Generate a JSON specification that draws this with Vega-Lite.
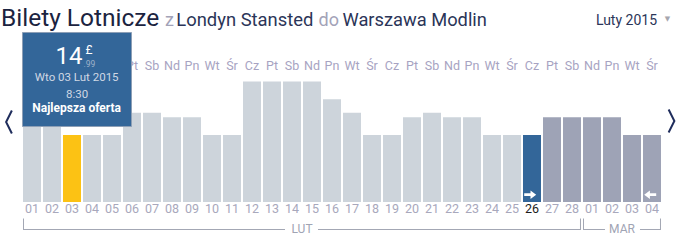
{
  "$schema": "https://vega.github.io/schema/vega-lite/v6.json",
  "width": 640,
  "height": 125,
  "autosize": {"type": "none"},
  "padding": {"left": 22, "top": 77, "right": 23, "bottom": 39},
  "background": "#ffffff",
  "config": {
    "view": {"stroke": null},
    "axis": {"disable": true},
    "legend": {"disable": true},
    "text": {"font": "Roboto"}
  },
  "data": {
    "values": [
      {"data": "2015-02-01", "dzien": "01", "tydz": "Nd", "cena": 19.99, "typ": "zwykly"},
      {"data": "2015-02-02", "dzien": "02", "tydz": "Pn", "cena": 19.99, "typ": "zwykly"},
      {"data": "2015-02-03", "dzien": "03", "tydz": "Wt", "cena": 14.99, "typ": "wybrany"},
      {"data": "2015-02-04", "dzien": "04", "tydz": "Śr", "cena": 14.99, "typ": "zwykly"},
      {"data": "2015-02-05", "dzien": "05", "tydz": "Cz", "cena": 14.99, "typ": "zwykly"},
      {"data": "2015-02-06", "dzien": "06", "tydz": "Pt", "cena": 19.99, "typ": "zwykly"},
      {"data": "2015-02-07", "dzien": "07", "tydz": "Sb", "cena": 19.99, "typ": "zwykly"},
      {"data": "2015-02-08", "dzien": "08", "tydz": "Nd", "cena": 18.99, "typ": "zwykly"},
      {"data": "2015-02-09", "dzien": "09", "tydz": "Pn", "cena": 18.99, "typ": "zwykly"},
      {"data": "2015-02-10", "dzien": "10", "tydz": "Wt", "cena": 14.99, "typ": "zwykly"},
      {"data": "2015-02-11", "dzien": "11", "tydz": "Śr", "cena": 14.99, "typ": "zwykly"},
      {"data": "2015-02-12", "dzien": "12", "tydz": "Cz", "cena": 26.99, "typ": "zwykly"},
      {"data": "2015-02-13", "dzien": "13", "tydz": "Pt", "cena": 26.99, "typ": "zwykly"},
      {"data": "2015-02-14", "dzien": "14", "tydz": "Sb", "cena": 26.99, "typ": "zwykly"},
      {"data": "2015-02-15", "dzien": "15", "tydz": "Nd", "cena": 26.99, "typ": "zwykly"},
      {"data": "2015-02-16", "dzien": "16", "tydz": "Pn", "cena": 22.99, "typ": "zwykly"},
      {"data": "2015-02-17", "dzien": "17", "tydz": "Wt", "cena": 19.99, "typ": "zwykly"},
      {"data": "2015-02-18", "dzien": "18", "tydz": "Śr", "cena": 14.99, "typ": "zwykly"},
      {"data": "2015-02-19", "dzien": "19", "tydz": "Cz", "cena": 14.99, "typ": "zwykly"},
      {"data": "2015-02-20", "dzien": "20", "tydz": "Pt", "cena": 18.99, "typ": "zwykly"},
      {"data": "2015-02-21", "dzien": "21", "tydz": "Sb", "cena": 19.99, "typ": "zwykly"},
      {"data": "2015-02-22", "dzien": "22", "tydz": "Nd", "cena": 18.99, "typ": "zwykly"},
      {"data": "2015-02-23", "dzien": "23", "tydz": "Pn", "cena": 18.99, "typ": "zwykly"},
      {"data": "2015-02-24", "dzien": "24", "tydz": "Wt", "cena": 14.99, "typ": "zwykly"},
      {"data": "2015-02-25", "dzien": "25", "tydz": "Śr", "cena": 14.99, "typ": "zwykly"},
      {"data": "2015-02-26", "dzien": "26", "tydz": "Cz", "cena": 14.99, "typ": "wylot"},
      {"data": "2015-02-27", "dzien": "27", "tydz": "Pt", "cena": 18.99, "typ": "zakres"},
      {"data": "2015-02-28", "dzien": "28", "tydz": "Sb", "cena": 18.99, "typ": "zakres"},
      {"data": "2015-03-01", "dzien": "01", "tydz": "Nd", "cena": 18.99, "typ": "zakres"},
      {"data": "2015-03-02", "dzien": "02", "tydz": "Pn", "cena": 18.99, "typ": "zakres"},
      {"data": "2015-03-03", "dzien": "03", "tydz": "Wt", "cena": 14.99, "typ": "zakres"},
      {"data": "2015-03-04", "dzien": "04", "tydz": "Śr", "cena": 14.99, "typ": "zakres"}
    ]
  },
  "layer": [
    {
      "mark": {"type": "bar"},
      "encoding": {
        "x": {"field": "data", "type": "ordinal", "scale": {"paddingInner": 0.1, "paddingOuter": 0.05}, "axis": null},
        "y": {"field": "cena", "type": "quantitative", "scale": {"domain": [0, 28], "nice": false}, "axis": null},
        "color": {
          "field": "typ",
          "type": "nominal",
          "scale": {"domain": ["zwykly", "wybrany", "wylot", "zakres"], "range": ["#cdd4db", "#fcc214", "#336699", "#9ea3b6"]},
          "legend": null
        }
      }
    },
    {
      "data": {"values": [{"data": "2015-02-26", "kierunek": "tam"}, {"data": "2015-03-04", "kierunek": "powrot"}]},
      "mark": {"type": "point", "filled": true, "size": 144, "opacity": 1, "strokeWidth": 0},
      "encoding": {
        "x": {"field": "data", "type": "ordinal", "bandPosition": 0.4},
        "y": {"datum": 1.64, "type": "quantitative", "scale": {"domain": [0, 28], "nice": false}},
        "shape": {
          "field": "kierunek",
          "type": "nominal",
          "scale": {
            "domain": ["tam", "powrot"],
            "range": [
              "M-1,-0.22L0.05,-0.22L0.05,-0.7L1,0L0.05,0.7L0.05,0.22L-1,0.22Z",
              "M1,-0.22L-0.05,-0.22L-0.05,-0.7L-1,0L-0.05,0.7L-0.05,0.22L1,0.22Z"
            ]
          },
          "legend": null
        },
        "color": {"value": "#ffffff"}
      }
    },
    {
      "mark": {"type": "text", "font": "Liberation Sans Narrow, Roboto", "fontSize": 12.5, "align": "center", "baseline": "alphabetic", "color": "#a7a3c2"},
      "encoding": {
        "x": {"field": "data", "type": "ordinal"},
        "y": {"datum": 29.57, "type": "quantitative", "scale": {"domain": [0, 28], "nice": false}},
        "text": {"field": "tydz"}
      }
    },
    {
      "mark": {"type": "text", "font": "Liberation Sans Narrow, Roboto", "fontSize": 12.5, "align": "center", "baseline": "alphabetic"},
      "encoding": {
        "x": {"field": "data", "type": "ordinal"},
        "y": {"datum": -2.53, "type": "quantitative", "scale": {"domain": [0, 28], "nice": false}},
        "text": {"field": "dzien"},
        "color": {"condition": {"test": "datum.data === '2015-02-26'", "value": "#1c1c1c"}, "value": "#a8a8bc"}
      }
    },
    {
      "data": {"values": [{"data": "2015-02-01"}, {"data": "2015-03-01"}]},
      "mark": {"type": "rule", "color": "#a3a7b4", "strokeWidth": 1},
      "encoding": {
        "x": {"field": "data", "type": "ordinal", "bandPosition": 0.028},
        "y": {"datum": -3.7, "type": "quantitative", "scale": {"domain": [0, 28], "nice": false}},
        "y2": {"datum": -6.27}
      }
    },
    {
      "data": {"values": [{"data": "2015-02-28"}, {"data": "2015-03-04"}]},
      "mark": {"type": "rule", "color": "#a3a7b4", "strokeWidth": 1},
      "encoding": {
        "x": {"field": "data", "type": "ordinal", "bandPosition": 0.972},
        "y": {"datum": -3.7, "type": "quantitative", "scale": {"domain": [0, 28], "nice": false}},
        "y2": {"datum": -6.27}
      }
    },
    {
      "data": {"values": [{"od": "2015-02-01", "do": "2015-02-14"}, {"od": "2015-03-01", "do": "2015-03-02"}]},
      "mark": {"type": "rule", "color": "#a3a7b4", "strokeWidth": 1},
      "encoding": {
        "x": {"field": "od", "type": "ordinal", "bandPosition": 0.028},
        "x2": {"field": "do", "bandPosition": 0.111},
        "y": {"datum": -6.16, "type": "quantitative", "scale": {"domain": [0, 28], "nice": false}}
      }
    },
    {
      "data": {"values": [{"od": "2015-02-15", "do": "2015-02-28"}]},
      "mark": {"type": "rule", "color": "#a3a7b4", "strokeWidth": 1},
      "encoding": {
        "x": {"field": "od", "type": "ordinal", "bandPosition": 0.833},
        "x2": {"field": "do", "bandPosition": 1},
        "y": {"datum": -6.16, "type": "quantitative", "scale": {"domain": [0, 28], "nice": false}}
      }
    },
    {
      "data": {"values": [{"od": "2015-03-03", "do": "2015-03-04"}]},
      "mark": {"type": "rule", "color": "#a3a7b4", "strokeWidth": 1},
      "encoding": {
        "x": {"field": "od", "type": "ordinal", "bandPosition": 0.944},
        "x2": {"field": "do", "bandPosition": 1},
        "y": {"datum": -6.16, "type": "quantitative", "scale": {"domain": [0, 28], "nice": false}}
      }
    },
    {
      "data": {"values": [{"data": "2015-02-14", "miesiac": "LUT"}, {"data": "2015-03-02", "miesiac": "MAR"}]},
      "mark": {"type": "text", "font": "Roboto", "fontSize": 12, "align": "center", "baseline": "alphabetic", "color": "#a0a4b4"},
      "encoding": {
        "x": {"field": "data", "type": "ordinal", "bandPosition": 1.056},
        "y": {"datum": -7.01, "type": "quantitative", "scale": {"domain": [0, 28], "nice": false}},
        "text": {"field": "miesiac"}
      }
    },
    {
      "data": {"values": [{"napis": "Bilety Lotnicze"}]},
      "mark": {"type": "text", "font": "Roboto", "fontSize": 24.5, "align": "left", "baseline": "alphabetic", "color": "#1b2340"},
      "encoding": {
        "x": {"datum": "2015-02-01", "type": "ordinal", "bandPosition": -1.222},
        "y": {"datum": 39.42, "type": "quantitative", "scale": {"domain": [0, 28], "nice": false}},
        "text": {"field": "napis"}
      }
    },
    {
      "data": {"values": [{"napis": "z"}]},
      "mark": {"type": "text", "font": "Roboto", "fontSize": 18, "align": "left", "baseline": "alphabetic", "color": "#a3a3b8"},
      "encoding": {
        "x": {"datum": "2015-02-08", "type": "ordinal", "bandPosition": 0.111},
        "y": {"datum": 39.42, "type": "quantitative", "scale": {"domain": [0, 28], "nice": false}},
        "text": {"field": "napis"}
      }
    },
    {
      "data": {"values": [{"napis": "Londyn Stansted"}]},
      "mark": {"type": "text", "font": "Roboto", "fontSize": 18.4, "align": "left", "baseline": "alphabetic", "color": "#2b3558"},
      "encoding": {
        "x": {"datum": "2015-02-08", "type": "ordinal", "bandPosition": 0.74},
        "y": {"datum": 39.42, "type": "quantitative", "scale": {"domain": [0, 28], "nice": false}},
        "text": {"field": "napis"}
      }
    },
    {
      "data": {"values": [{"napis": "do"}]},
      "mark": {"type": "text", "font": "Roboto", "fontSize": 18, "align": "left", "baseline": "alphabetic", "color": "#a3a3b8"},
      "encoding": {
        "x": {"datum": "2015-02-15", "type": "ordinal", "bandPosition": 0.861},
        "y": {"datum": 39.42, "type": "quantitative", "scale": {"domain": [0, 28], "nice": false}},
        "text": {"field": "napis"}
      }
    },
    {
      "data": {"values": [{"napis": "Warszawa Modlin"}]},
      "mark": {"type": "text", "font": "Roboto", "fontSize": 18.3, "align": "left", "baseline": "alphabetic", "color": "#2b3558"},
      "encoding": {
        "x": {"datum": "2015-02-17", "type": "ordinal", "bandPosition": -0.028},
        "y": {"datum": 39.42, "type": "quantitative", "scale": {"domain": [0, 28], "nice": false}},
        "text": {"field": "napis"}
      }
    },
    {
      "data": {"values": [{"napis": "Luty 2015"}]},
      "mark": {"type": "text", "font": "Roboto", "fontSize": 14, "align": "right", "baseline": "alphabetic", "color": "#2b3558"},
      "encoding": {
        "x": {"datum": "2015-03-04", "type": "ordinal", "bandPosition": 0.778},
        "y": {"datum": 39.65, "type": "quantitative", "scale": {"domain": [0, 28], "nice": false}},
        "text": {"field": "napis"}
      }
    },
    {
      "data": {"values": [{"napis": "▼"}]},
      "mark": {"type": "text", "font": "DejaVu Sans", "fontSize": 7, "align": "center", "baseline": "middle", "color": "#a6a6ae"},
      "encoding": {
        "x": {"datum": "2015-03-04", "type": "ordinal", "bandPosition": 1.361},
        "y": {"datum": 40.99, "type": "quantitative", "scale": {"domain": [0, 28], "nice": false}},
        "text": {"field": "napis"}
      }
    },
    {
      "data": {"values": [{"strona": "wstecz"}]},
      "mark": {"type": "point", "shape": "M0.25,-1L-0.25,0L0.25,1", "filled": false, "size": 529, "strokeWidth": 2, "color": "#1f2d5c", "opacity": 1},
      "encoding": {
        "x": {"datum": "2015-02-01", "type": "ordinal", "bandPosition": -0.778},
        "y": {"datum": 17.92, "type": "quantitative", "scale": {"domain": [0, 28], "nice": false}}
      }
    },
    {
      "data": {"values": [{"strona": "dalej"}]},
      "mark": {"type": "point", "shape": "M-0.25,-1L0.25,0L-0.25,1", "filled": false, "size": 529, "strokeWidth": 2, "color": "#1f2d5c", "opacity": 1},
      "encoding": {
        "x": {"datum": "2015-03-04", "type": "ordinal", "bandPosition": 1.583},
        "y": {"datum": 18.14, "type": "quantitative", "scale": {"domain": [0, 28], "nice": false}}
      }
    },
    {
      "data": {"values": [{"dzien": "2015-02-03"}]},
      "mark": {"type": "rect", "fill": "#336699", "stroke": "#8d9fb6", "strokeWidth": 1},
      "encoding": {
        "x": {"datum": "2015-02-01", "type": "ordinal", "bandPosition": -0.028},
        "x2": {"datum": "2015-02-06", "bandPosition": 0.472},
        "y": {"datum": 37.97, "type": "quantitative", "scale": {"domain": [0, 28], "nice": false}},
        "y2": {"datum": 16.91}
      }
    },
    {
      "data": {"values": [{"napis": "14"}]},
      "mark": {"type": "text", "font": "Roboto", "fontSize": 24, "align": "right", "baseline": "alphabetic", "color": "#ffffff"},
      "encoding": {
        "x": {"datum": "2015-02-03", "type": "ordinal", "bandPosition": 1.08},
        "y": {"datum": 30.84, "type": "quantitative", "scale": {"domain": [0, 28], "nice": false}},
        "text": {"field": "napis"}
      }
    },
    {
      "data": {"values": [{"napis": "£"}]},
      "mark": {"type": "text", "font": "Roboto", "fontSize": 12, "align": "left", "baseline": "alphabetic", "color": "#ffffff"},
      "encoding": {
        "x": {"datum": "2015-02-03", "type": "ordinal", "bandPosition": 1.25},
        "y": {"datum": 33.08, "type": "quantitative", "scale": {"domain": [0, 28], "nice": false}},
        "text": {"field": "napis"}
      }
    },
    {
      "data": {"values": [{"napis": ".99"}]},
      "mark": {"type": "text", "font": "Roboto", "fontSize": 8.5, "align": "left", "baseline": "alphabetic", "color": "#9fb2c9"},
      "encoding": {
        "x": {"datum": "2015-02-03", "type": "ordinal", "bandPosition": 1.14},
        "y": {"datum": 30.31, "type": "quantitative", "scale": {"domain": [0, 28], "nice": false}},
        "text": {"field": "napis"}
      }
    },
    {
      "data": {"values": [{"napis": "Wto 03 Lut 2015"}]},
      "mark": {"type": "text", "font": "Liberation Sans Narrow, Roboto", "fontSize": 11.5, "align": "center", "baseline": "alphabetic", "color": "#d0d8e4"},
      "encoding": {
        "x": {"datum": "2015-02-03", "type": "ordinal", "bandPosition": 0.76},
        "y": {"datum": 27.1, "type": "quantitative", "scale": {"domain": [0, 28], "nice": false}},
        "text": {"field": "napis"}
      }
    },
    {
      "data": {"values": [{"napis": "8:30"}]},
      "mark": {"type": "text", "font": "Liberation Sans Narrow, Roboto", "fontSize": 11.5, "align": "center", "baseline": "alphabetic", "color": "#d0d8e4"},
      "encoding": {
        "x": {"datum": "2015-02-03", "type": "ordinal", "bandPosition": 0.78},
        "y": {"datum": 23.36, "type": "quantitative", "scale": {"domain": [0, 28], "nice": false}},
        "text": {"field": "napis"}
      }
    },
    {
      "data": {"values": [{"napis": "Najlepsza oferta"}]},
      "mark": {"type": "text", "font": "Roboto", "fontSize": 12, "fontWeight": "bold", "align": "center", "baseline": "alphabetic", "color": "#ffffff"},
      "encoding": {
        "x": {"datum": "2015-02-03", "type": "ordinal", "bandPosition": 0.76},
        "y": {"datum": 20.09, "type": "quantitative", "scale": {"domain": [0, 28], "nice": false}},
        "text": {"field": "napis"}
      }
    }
  ]
}
